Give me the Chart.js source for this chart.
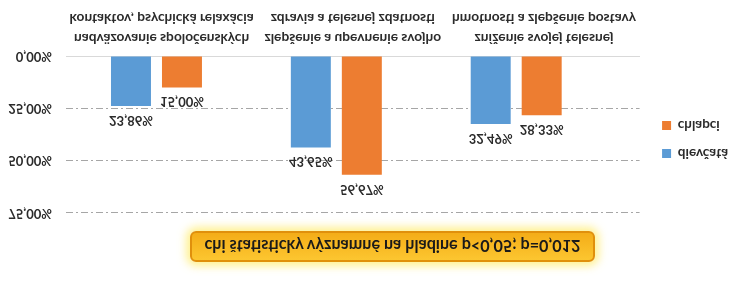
<!DOCTYPE html>
<html>
<head>
<meta charset="utf-8">
<script src="https://cdn.jsdelivr.net/npm/chart.js@4.4.0/dist/chart.umd.min.js"></script>
<style>
  html, body { margin: 0; padding: 0; background: #fff; }
  /* the reference picture is mirrored top-to-bottom, so the whole chart is flipped */
  #wrap { position: relative; width: 736px; height: 284px; transform: scaleY(-1); }
  #chart { display: block; }
  #note {
    position: absolute; left: 190px; top: 22px; width: 405px; height: 31px;
    box-sizing: border-box; border: 2px solid #e0900c; border-radius: 6px;
    background: linear-gradient(#fcc630, #f4ad18);
    box-shadow: 0 0 8px 4px rgba(255, 236, 110, 0.75);
    font: bold 16.2px Lato, sans-serif; color: #1a1a1a;
    text-align: center; line-height: 27px; white-space: nowrap;
  }
</style>
</head>
<body>
<div id="wrap">
  <canvas id="chart" width="736" height="284"></canvas>
  <div id="note">chi štatisticky významné na hladine p&lt;0,05; p=0,012</div>
</div>
<script>
// Data
var categories = [
    ['nadväzovanie spoločenských', 'kontaktov, psychická relaxácia'],
    ['zlepšenie a upevnenie svojho', 'zdravia a telesnej zdatnosti'],
    ['zníženie svojej telesnej', 'hmotnosti a zlepšenie postavy']
];
var seriesNames = ['dievčatá', 'chlapci'];
var dievcata = [23.86, 43.65, 32.49];
var chlapci = [15.00, 56.67, 28.33];
var yTicks = [0, 25, 50, 75];

var FONT = 'Lato, sans-serif';
var TEXT = '#2b2b2b';

function pct(v) {
    return Number(v).toFixed(2).replace('.', ',') + '%';
}

// bars sit on their own (hidden) linear axis: one point per category index
function points(values) {
    return values.map(function (v, i) { return { x: i, y: v }; });
}

// Value labels above every bar
var valueLabels = {
    id: 'valueLabels',
    afterDatasetsDraw: function (chart) {
        var ctx = chart.ctx;
        ctx.save();
        ctx.font = 'bold 13px ' + FONT;
        ctx.fillStyle = TEXT;
        ctx.textAlign = 'center';
        ctx.textBaseline = 'alphabetic';
        chart.data.datasets.forEach(function (ds, i) {
            chart.getDatasetMeta(i).data.forEach(function (bar, j) {
                ctx.fillText(pct(ds.data[j].y), bar.x, bar.y - 10);
            });
        });
        ctx.restore();
    }
};

// Move legend a little to match the original placement
var legendNudge = {
    id: 'legendNudge',
    afterUpdate: function (chart) {
        var l = chart.legend;
        l.left += 8; l.right += 8;
        l.top -= 5; l.bottom -= 5;
    }
};

document.addEventListener('DOMContentLoaded', function () {
    var ctx = document.getElementById('chart');
    new Chart(ctx, {
        type: 'bar',
        data: {
            labels: categories,
            datasets: [{
                label: seriesNames[0],
                data: points(dievcata),
                backgroundColor: '#5b9bd5',
                borderWidth: 0,
                xAxisID: 'xb',
                categoryPercentage: 0.567,
                barPercentage: 0.784
            }, {
                label: seriesNames[1],
                data: points(chlapci),
                backgroundColor: '#ed7d31',
                borderWidth: 0,
                xAxisID: 'xb',
                categoryPercentage: 0.567,
                barPercentage: 0.784
            }]
        },
        options: {
            responsive: false,
            animation: false,
            devicePixelRatio: 1,
            layout: { padding: { top: 71, right: 6, bottom: 0, left: 0 } },
            scales: {
                x: {
                    type: 'category',
                    offset: true,
                    grid: { display: false, drawTicks: false },
                    border: { display: true, color: '#d9d9d9', width: 1 },
                    ticks: {
                        padding: 8, maxRotation: 0, autoSkip: false, color: TEXT,
                        font: { family: FONT, size: 13.7, weight: 'bold', lineHeight: 1.46 }
                    }
                },
                xb: {
                    type: 'linear',
                    display: false,
                    offset: false,
                    min: -0.503,
                    max: 2.686,
                    afterBuildTicks: function (s) {
                        s.ticks = categories.map(function (c, i) { return { value: i }; });
                    }
                },
                y: {
                    min: 0,
                    max: 75,
                    afterBuildTicks: function (s) {
                        s.ticks = yTicks.map(function (v) { return { value: v }; });
                    },
                    afterFit: function (s) { s.width = 66; },
                    grid: {
                        drawTicks: false,
                        lineWidth: 1,
                        color: function (c) {
                            return c.tick && c.tick.value === 0 ? 'rgba(0,0,0,0)' : '#a6a6a6';
                        }
                    },
                    border: { display: false, dash: [7, 3, 2, 3] },
                    ticks: {
                        padding: 14, color: TEXT,
                        font: { family: FONT, size: 13, weight: 'bold' },
                        callback: function (v) { return pct(v); }
                    }
                }
            },
            plugins: {
                tooltip: { enabled: false },
                legend: {
                    position: 'right',
                    fullSize: false,
                    align: 'center',
                    labels: {
                        boxWidth: 9, boxHeight: 9, padding: 14.5, color: TEXT,
                        font: { family: FONT, size: 13.5, weight: 'bold' }
                    }
                }
            }
        },
        plugins: [valueLabels, legendNudge]
    });
});
</script>
</body>
</html>
